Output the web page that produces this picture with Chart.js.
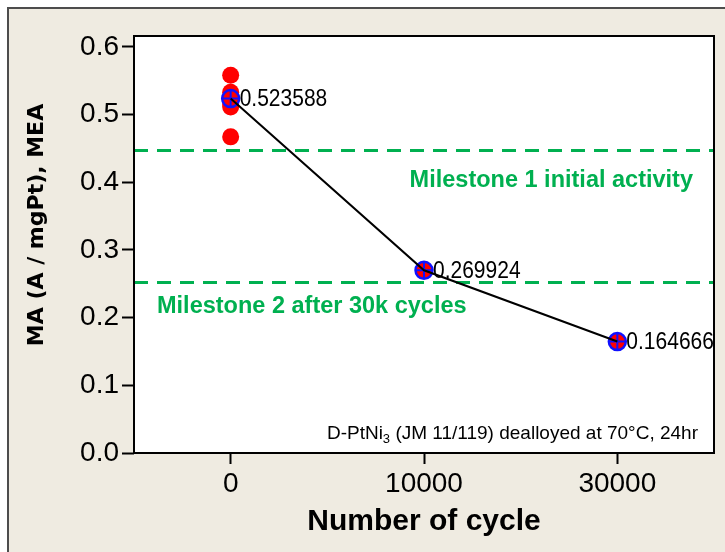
<!DOCTYPE html>
<html>
<head>
<meta charset="utf-8">
<title>Mass activity vs cycles</title>
<script src="https://cdn.jsdelivr.net/npm/chart.js@4.4.1/dist/chart.umd.min.js"></script>
<style>
  html, body { margin: 0; padding: 0; background: #fff; }
  canvas { display: block; }
</style>
</head>
<body>
<canvas id="maChart" width="725" height="552"></canvas>
<script>
  // Cycle counts (category axis) and measured mass activity.
  const cycles = ['0', '10000', '30000'];
  const initialRuns = [0.558, 0.533, 0.524, 0.516, 0.511, 0.467];
  const meanActivity = [0.523588, 0.269924, 0.164666];
  const yTicks = [0.0, 0.1, 0.2, 0.3, 0.4, 0.5, 0.6];

  // DOE milestone targets.
  const milestone1 = 0.447;
  const milestone2 = 0.252;

  const colors = {
    frame: '#4d4d4d',
    panel: '#efebe1',
    dot: '#ff0000',
    marker: '#1010ff',
    line: '#000000',
    milestone: '#00b050',
  };

  const ctx = document.getElementById('maChart').getContext('2d');

  // Panel background, frame and plot border.
  const framePlugin = {
    id: 'frame',
    beforeDraw(chart) {
      const c = chart.ctx;
      const a = chart.chartArea;
      c.save();
      c.fillStyle = '#fff';
      c.fillRect(0, 0, chart.width, chart.height);
      c.fillStyle = colors.panel;
      c.fillRect(9, 9, chart.width - 9, chart.height - 9);
      c.strokeStyle = colors.frame;
      c.lineWidth = 2;
      c.beginPath();
      c.moveTo(8, chart.height);
      c.lineTo(8, 8);
      c.lineTo(chart.width, 8);
      c.stroke();
      c.fillStyle = '#fff';
      c.fillRect(a.left, a.top, a.right - a.left, a.bottom - a.top);
      c.restore();
    },
    afterDraw(chart) {
      const c = chart.ctx;
      const a = chart.chartArea;
      c.save();
      c.strokeStyle = '#000';
      c.lineWidth = 2;
      c.strokeRect(a.left, a.top, a.right - a.left, a.bottom - a.top);

      // Y axis title, drawn by hand so it can sit a little above centre.
      c.fillStyle = '#000';
      c.font = 'bold 22px "DejaVu Sans"';
      c.textAlign = 'center';
      c.textBaseline = 'middle';
      c.translate(37, 225);
      c.rotate(-Math.PI / 2);
      c.fillText('MA (A / mgPt), MEA', 0, 0);
      c.restore();
    }
  };

  // Milestone lines, their captions and the sample note.
  const milestonePlugin = {
    id: 'milestones',
    beforeDatasetsDraw(chart) {
      const c = chart.ctx;
      const a = chart.chartArea;
      const y = chart.scales.y;
      c.save();
      c.strokeStyle = colors.milestone;
      c.lineWidth = 3;
      c.setLineDash([14, 9]);
      [milestone1, milestone2].forEach((v) => {
        const py = Math.round(y.getPixelForValue(v)) + 0.5;
        c.beginPath();
        c.moveTo(a.left, py);
        c.lineTo(a.right, py);
        c.stroke();
      });
      c.setLineDash([]);

      c.fillStyle = colors.milestone;
      c.font = 'bold 23.5px "Liberation Sans"';
      c.textBaseline = 'middle';
      c.textAlign = 'right';
      c.fillText('Milestone 1 initial activity', a.right - 21, y.getPixelForValue(milestone1) + 30);
      c.textAlign = 'left';
      c.fillText('Milestone 2 after 30k cycles', a.left + 23, y.getPixelForValue(milestone2) + 24);

      // Sample note with subscript.
      c.fillStyle = '#000';
      c.textBaseline = 'alphabetic';
      c.textAlign = 'left';
      const big = '19px "Liberation Sans"';
      const small = '13px "Liberation Sans"';
      const parts = [['D-PtNi', big, 0], ['3', small, 4], [' (JM 11/119) dealloyed at 70\u00b0C, 24hr', big, 0]];
      let w = 0;
      parts.forEach((p) => { c.font = p[1]; w += c.measureText(p[0]).width; });
      let x = a.right - 16 - w;
      const base = 439;
      parts.forEach((p) => {
        c.font = p[1];
        c.fillText(p[0], x, base + p[2]);
        x += c.measureText(p[0]).width;
      });
      c.restore();
    },
    afterDatasetsDraw(chart) {
      // Value labels beside the mean markers, a touch taller than wide.
      const c = chart.ctx;
      const meta = chart.getDatasetMeta(1);
      c.fillStyle = '#000';
      c.font = '21px "Liberation Sans"';
      c.textAlign = 'left';
      c.textBaseline = 'middle';
      meta.data.forEach((pt, i) => {
        c.save();
        c.translate(pt.x + 9, pt.y + 1);
        c.scale(1, 1.13);
        c.fillText(String(meanActivity[i]), 0, 0);
        c.restore();
      });
    }
  };

  new Chart(ctx, {
    type: 'line',
    data: {
      labels: cycles,
      datasets: [
        {
          label: 'Individual runs',
          data: initialRuns.map((v) => ({ x: cycles[0], y: v })),
          showLine: false,
          pointStyle: 'circle',
          pointRadius: 8.5,
          pointBackgroundColor: colors.dot,
          pointBorderWidth: 0,
          order: 4
        },
        {
          label: 'Mean',
          data: meanActivity,
          showLine: false,
          pointStyle: 'circle',
          pointRadius: 8.5,
          pointBackgroundColor: colors.dot,
          pointBorderColor: colors.marker,
          pointBorderWidth: 2.5,
          order: 3
        },
        {
          label: 'Mean cross',
          data: meanActivity,
          showLine: false,
          pointStyle: 'cross',
          pointRadius: 8.5,
          pointBorderColor: colors.marker,
          pointBorderWidth: 2,
          order: 2
        },
        {
          label: 'Trend',
          data: meanActivity,
          borderColor: colors.line,
          borderWidth: 2,
          pointRadius: 0,
          tension: 0,
          order: 1
        }
      ]
    },
    options: {
      responsive: false,
      animation: false,
      events: [],
      layout: {
        padding: { left: 0, top: 36, right: 11, bottom: 0 }
      },
      plugins: {
        legend: { display: false },
        tooltip: { enabled: false }
      },
      scales: {
        x: {
          type: 'category',
          offset: true,
          grid: {
            drawOnChartArea: false,
            drawTicks: true,
            tickLength: 11,
            tickWidth: 2,
            tickColor: '#000',
            offset: false
          },
          border: { display: false },
          ticks: {
            color: '#000',
            font: { family: 'Liberation Sans', size: 28 },
            padding: 3,
            maxRotation: 0
          },
          title: {
            display: true,
            text: 'Number of cycle',
            color: '#000',
            font: { family: 'Liberation Sans', size: 30, weight: 'bold' },
            padding: { top: 0, bottom: 12 }
          },
          afterFit(scale) { scale.height = 99; }
        },
        y: {
          min: 0,
          max: 0.616,
          grid: {
            drawOnChartArea: false,
            drawTicks: true,
            tickLength: 12,
            tickWidth: 2,
            tickColor: '#000'
          },
          border: { display: false },
          ticks: {
            color: '#000',
            font: { family: 'Liberation Sans', size: 28 },
            padding: 3,
            callback: (v) => v.toFixed(1)
          },
          afterBuildTicks(scale) {
            scale.ticks = yTicks.map((v) => ({ value: v }));
          },
          afterFit(scale) { scale.width = 134; }
        }
      }
    },
    plugins: [framePlugin, milestonePlugin]
  });
</script>
</body>
</html>
